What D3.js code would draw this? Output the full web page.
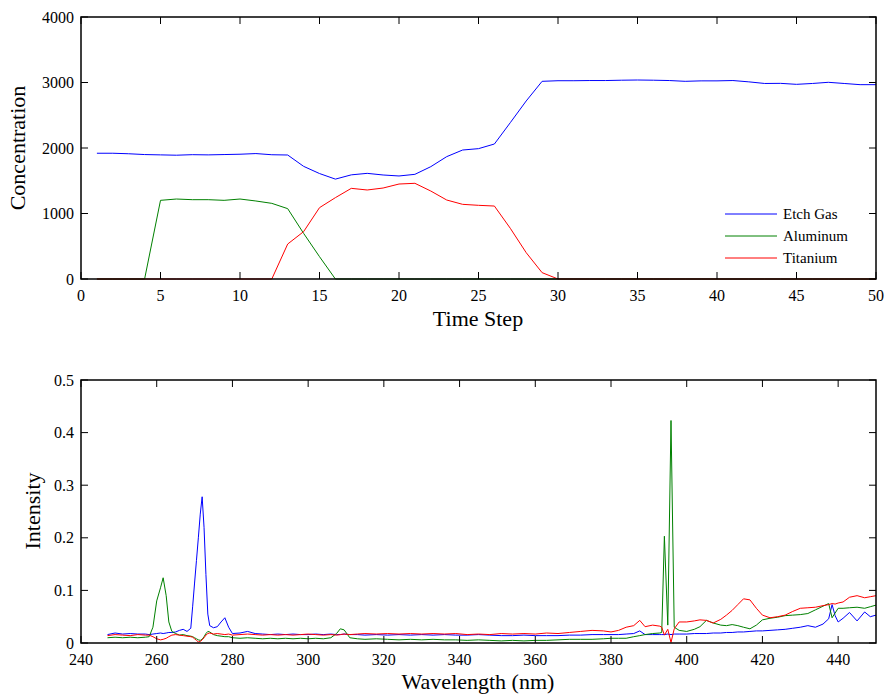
<!DOCTYPE html>
<html>
<head>
<meta charset="utf-8">
<script src="https://cdn.jsdelivr.net/npm/d3@7"></script>
<style>
html,body{margin:0;padding:0;background:#fff;}
svg{display:block;font-family:"Liberation Serif","Times New Roman",serif;}
</style>
</head>
<body>
<svg id="chart" width="886" height="694"></svg>
<script>
// ---------- Top chart data ----------
const timeSteps = d3.range(1, 51);
const etchGas = [1920,1920,1912,1900,1895,1890,1898,1895,1900,1905,1915,1897,1893,1720,1610,1525,1590,1613,1588,1573,1598,1715,1868,1969,1990,2061,2387,2718,3018,3027,3027,3030,3030,3035,3038,3035,3030,3018,3025,3025,3030,3010,2985,2987,2972,2985,3003,2985,2967,2967];
const aluminum = [0,0,0,0,1201,1221,1211,1211,1201,1221,1191,1155,1074,697,341,0,0,0,0,0,0,0,0,0,0,0,0,0,0,0,0,0,0,0,0,0,0,0,0,0,0,0,0,0,0,0,0,0,0,0];
const titanium = [0,0,0,0,0,0,0,0,0,0,0,0,534,723,1089,1242,1384,1359,1389,1450,1461,1343,1206,1140,1125,1114,774,402,97,0,0,0,0,0,0,0,0,0,0,0,0,0,0,0,0,0,0,0,0,0];
const topXTicks = [0,5,10,15,20,25,30,35,40,45,50];
const topYTicks = [0,1000,2000,3000,4000];
const seriesNames = ["Etch Gas","Aluminum","Titanium"];
const seriesColors = ["#0000ff","#008000","#ff0000"];

// ---------- Bottom chart data ----------
const wavelength = [247,249,251,253,255,257,258,259,260,261,261.7,262.5,263.2,264,265,266,267,268,269,269.5,270,270.5,271,271.5,272,272.5,273,273.5,274,275,276,277,278,279,280,282,284,286,288,290,292,294,296,298,300,302,304,306,307.5,308.5,309.5,311,313,315,318,321,324,327,330,333,336,339,342,345,348,351,354,357,360,363,366,369,372,375,378,380,382,384,386,387.6,389,391,392.9,393.4,394.1,395,395.85,396.7,398,400,402,403.5,405.2,407,409,410.5,412,413.5,415,416.7,418.4,420,422,424,426,428,430,432,434,436,437.5,438.4,439.2,440,441.3,443,445,447,448.5,450];
const intensityBlue = [0.016,0.019,0.017,0.018,0.017,0.017,0.016,0.017,0.018,0.019,0.018,0.019,0.020,0.020,0.021,0.024,0.026,0.022,0.028,0.07,0.114,0.157,0.200,0.245,0.278,0.22,0.13,0.055,0.033,0.029,0.031,0.040,0.048,0.030,0.018,0.019,0.022,0.018,0.017,0.016,0.017,0.016,0.017,0.016,0.016,0.017,0.016,0.017,0.016,0.016,0.017,0.016,0.016,0.015,0.016,0.015,0.016,0.015,0.016,0.015,0.016,0.015,0.015,0.016,0.015,0.014,0.014,0.015,0.014,0.014,0.014,0.015,0.015,0.016,0.016,0.016,0.016,0.017,0.018,0.023,0.016,0.016,0.016,0.016,0.016,0.017,0.016,0.017,0.017,0.017,0.018,0.018,0.018,0.019,0.019,0.020,0.020,0.021,0.021,0.022,0.023,0.023,0.024,0.025,0.026,0.028,0.030,0.033,0.030,0.036,0.046,0.073,0.052,0.040,0.047,0.058,0.042,0.059,0.050,0.053];
const intensityGreen = [0.010,0.011,0.010,0.011,0.010,0.011,0.012,0.030,0.080,0.105,0.124,0.090,0.040,0.022,0.018,0.015,0.016,0.014,0.013,0.012,0.010,0.008,0.006,0.005,0.007,0.012,0.018,0.022,0.021,0.016,0.014,0.013,0.012,0.012,0.010,0.009,0.010,0.009,0.008,0.009,0.008,0.009,0.008,0.009,0.008,0.009,0.008,0.010,0.018,0.027,0.025,0.010,0.008,0.007,0.008,0.007,0.006,0.007,0.006,0.007,0.006,0.006,0.005,0.006,0.005,0.004,0.005,0.004,0.005,0.005,0.006,0.007,0.007,0.007,0.008,0.009,0.009,0.009,0.012,0.014,0.016,0.018,0.019,0.020,0.203,0.034,0.423,0.030,0.024,0.022,0.026,0.031,0.043,0.038,0.034,0.033,0.035,0.033,0.030,0.027,0.034,0.044,0.047,0.049,0.052,0.053,0.054,0.056,0.063,0.070,0.075,0.048,0.057,0.066,0.066,0.067,0.068,0.066,0.069,0.072];
const intensityRed = [0.014,0.016,0.015,0.014,0.016,0.015,0.015,0.012,0.008,0.006,0.007,0.009,0.012,0.015,0.016,0.015,0.014,0.013,0.012,0.011,0.008,0.005,0.002,0.003,0.006,0.010,0.015,0.018,0.019,0.017,0.018,0.017,0.016,0.017,0.015,0.016,0.017,0.016,0.015,0.016,0.015,0.016,0.015,0.016,0.017,0.016,0.015,0.016,0.015,0.016,0.017,0.016,0.017,0.018,0.017,0.018,0.017,0.018,0.017,0.018,0.017,0.018,0.016,0.017,0.016,0.018,0.017,0.018,0.017,0.019,0.018,0.020,0.022,0.024,0.023,0.021,0.024,0.030,0.033,0.043,0.031,0.034,0.032,0.030,0.015,0.026,0.001,0.027,0.040,0.040,0.042,0.044,0.043,0.038,0.045,0.053,0.062,0.073,0.084,0.082,0.066,0.053,0.048,0.050,0.053,0.060,0.066,0.067,0.068,0.071,0.073,0.075,0.074,0.076,0.078,0.087,0.090,0.086,0.088,0.090];
const botXTicks = [240,260,280,300,320,340,360,380,400,420,440];
const botYTicks = [0,0.1,0.2,0.3,0.4,0.5];

const svg = d3.select("#chart");
const tickLen = 7;

function drawFrame(g, x, y, xTicks, yTicks, xFmt, yFmt) {
  const [x0, x1] = x.range();
  const [y0, y1] = y.range(); // y0 bottom, y1 top
  // box
  g.append("rect").attr("x", x0).attr("y", y1).attr("width", x1 - x0).attr("height", y0 - y1)
    .attr("fill", "none").attr("stroke", "#000").attr("stroke-width", 1.5);
  // ticks (inward, on all four sides)
  xTicks.forEach(t => {
    const px = x(t);
    g.append("line").attr("x1", px).attr("x2", px).attr("y1", y0).attr("y2", y0 - tickLen).attr("stroke", "#000");
    g.append("line").attr("x1", px).attr("x2", px).attr("y1", y1).attr("y2", y1 + tickLen).attr("stroke", "#000");
    g.append("text").attr("x", px).attr("y", y0 + 22).attr("text-anchor", "middle")
      .attr("font-size", 16).text(xFmt(t));
  });
  yTicks.forEach(t => {
    const py = y(t);
    g.append("line").attr("x1", x0).attr("x2", x0 + tickLen).attr("y1", py).attr("y2", py).attr("stroke", "#000");
    g.append("line").attr("x1", x1).attr("x2", x1 - tickLen).attr("y1", py).attr("y2", py).attr("stroke", "#000");
    g.append("text").attr("x", x0 - 7).attr("y", py + 5.5).attr("text-anchor", "end")
      .attr("font-size", 16).text(yFmt(t));
  });
}

// ---------- Top chart ----------
const xTop = d3.scaleLinear().domain([0, 50]).range([81, 876]);
const yTop = d3.scaleLinear().domain([0, 4000]).range([279, 17]);
const gTop = svg.append("g");
const topSeries = [etchGas, aluminum, titanium];
const lineTop = d3.line().x((d, i) => xTop(timeSteps[i])).y(d => yTop(d));
topSeries.forEach((s, k) => {
  gTop.append("path").datum(s).attr("d", lineTop).attr("fill", "none")
    .attr("stroke", seriesColors[k]).attr("stroke-width", 1);
});
drawFrame(gTop, xTop, yTop, topXTicks, topYTicks, d => d, d => d);
gTop.append("text").attr("x", 478).attr("y", 326).attr("text-anchor", "middle")
  .attr("font-size", 22).text("Time Step");
gTop.append("text").attr("transform", "translate(25,148) rotate(-90)").attr("text-anchor", "middle")
  .attr("font-size", 22).text("Concentration");
// legend
const legY = [214, 236, 258];
seriesNames.forEach((n, k) => {
  gTop.append("line").attr("x1", 725).attr("x2", 777).attr("y1", legY[k]).attr("y2", legY[k])
    .attr("stroke", seriesColors[k]).attr("stroke-width", 1);
  gTop.append("text").attr("x", 783).attr("y", legY[k] + 5).attr("font-size", 15).text(n);
});

// ---------- Bottom chart ----------
const xBot = d3.scaleLinear().domain([240, 450]).range([81, 876]);
const yBot = d3.scaleLinear().domain([0, 0.5]).range([643, 380]);
const gBot = svg.append("g");
const botSeries = [intensityBlue, intensityGreen, intensityRed];
const lineBot = d3.line().x((d, i) => xBot(wavelength[i])).y(d => yBot(d));
botSeries.forEach((s, k) => {
  gBot.append("path").datum(s).attr("d", lineBot).attr("fill", "none")
    .attr("stroke", seriesColors[k]).attr("stroke-width", 1);
});
drawFrame(gBot, xBot, yBot, botXTicks.concat([450]).filter(t => t <= 440), botYTicks, d => d, d => d === 0 ? "0" : d3.format(".1f")(d));
gBot.append("text").attr("x", 478).attr("y", 689).attr("text-anchor", "middle")
  .attr("font-size", 22).text("Wavelength (nm)");
gBot.append("text").attr("transform", "translate(40,511) rotate(-90)").attr("text-anchor", "middle")
  .attr("font-size", 22).text("Intensity");
</script>
</body>
</html>
